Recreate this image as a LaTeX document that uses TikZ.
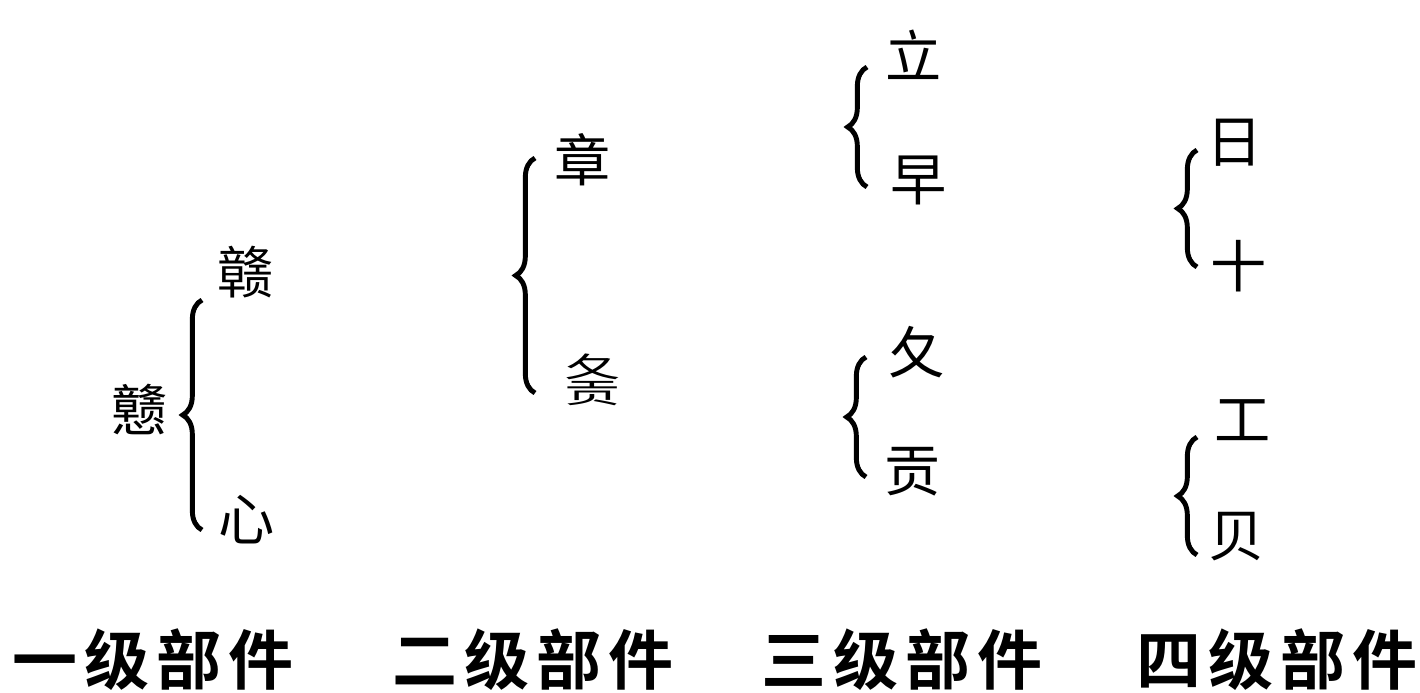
\documentclass[tikz,border=0pt]{standalone}
\usepackage{fontspec}
\usepackage{graphicx}
\usetikzlibrary{decorations.pathreplacing, positioning}
\newfontfamily\cjk{Noto Sans CJK SC}
\newfontfamily\cjkbold{Noto Sans CJK SC Bold}
\newcommand{\zs}{\hspace{4pt}}

\begin{document}
\begin{tikzpicture}[x=0.02cm, y=-0.02cm,
    zi/.style={inner sep=0pt, font=\cjk\fontsize{32}{15}\selectfont},
    ji/.style={inner sep=0pt, font=\cjkbold\fontsize{37}{40}\selectfont},
    brc/.style={decorate, decoration={brace, amplitude=11pt}, line width=2.8pt}]
        \useasboundingbox (0,0) rectangle (1420,693);

        % level 1
        \node[zi] (zhuang) at (140,410) {戆};
        \node[zi] (gan) at (246,272) {赣};
        \node[zi] (xin) at (247,520) {心};
        \coordinate (b1a) at (202,530);
        \coordinate (b1b) at (202,300);
        \draw[brc] (b1a) -- (b1b);

        % level 2
        \node[zi] (zhang) at (583,160) {章};
        \node[zi, align=center] (zhigong) at (593,380) {\scalebox{1}[0.5]{夂}\\\scalebox{1}[0.5]{贡}};
        \coordinate (b2a) at (535,393);
        \coordinate (b2b) at (535,158);
        \draw[brc] (b2a) -- (b2b);

        % level 3
        \node[zi] (li) at (914,55) {立};
        \node[zi] (zao) at (919,180) {早};
        \node[zi] (zhi) at (917,352) {夂};
        \node[zi] (gong) at (913,472) {贡};
        \coordinate (b3a) at (867,187);
        \coordinate (b3b) at (867,67);
        \draw[brc] (b3a) -- (b3b);
        \coordinate (b4a) at (866,477);
        \coordinate (b4b) at (866,357);
        \draw[brc] (b4a) -- (b4b);

        % level 4
        \node[zi] (ri) at (1235,143) {日};
        \node[zi] (shi) at (1239,266) {十};
        \node[zi] (gong2) at (1243,420) {工};
        \node[zi] (bei) at (1237,537) {贝};
        \coordinate (b5a) at (1197,267);
        \coordinate (b5b) at (1197,150);
        \draw[brc] (b5a) -- (b5b);
        \coordinate (b6a) at (1197,555);
        \coordinate (b6b) at (1197,437);
        \draw[brc] (b6a) -- (b6b);

        % labels
        \node[ji] (l1) at (153,660) {一\zs 级\zs 部\zs 件};
        \node[ji] (l2) at (533,660) {二\zs 级\zs 部\zs 件};
        \node[ji] (l3) at (902,660) {三\zs 级\zs 部\zs 件};
        \node[ji] (l4) at (1277,660) {四\zs 级\zs 部\zs 件};
    \end{tikzpicture}
\end{document}
